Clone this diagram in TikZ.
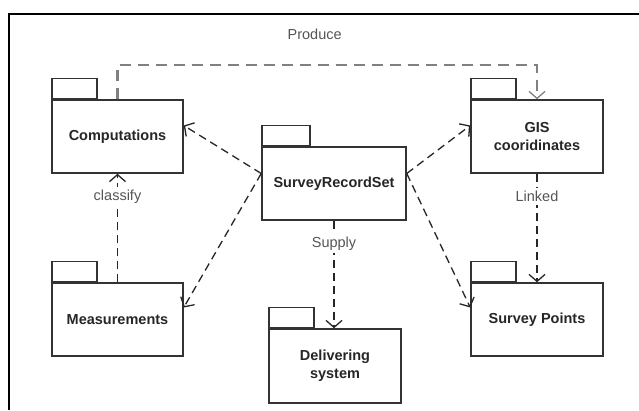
\documentclass[tikz,border=0pt]{standalone}
\usepackage{fontspec}
\setmainfont{Liberation Sans}
\usetikzlibrary{arrows.meta,calc}
\definecolor{boxline}{HTML}{333333}
\definecolor{boxtext}{HTML}{262626}
\definecolor{lbltext}{HTML}{555555}
\definecolor{prodline}{HTML}{808080}
\begin{document}
\begin{tikzpicture}[x=1pt,y=-1pt,
  pkg/.style={draw=boxline, line width=1.5pt, minimum width=131pt, minimum height=73pt,
    inner sep=0pt, font=\bfseries\fontsize{14.5}{18}\selectfont, text=boxtext, align=center},
  pkgtab/.style={draw=boxline, line width=1.5pt, minimum width=45pt, minimum height=20pt,
    inner sep=0pt, anchor=south west},
  dep/.style={draw=black!85, line width=1.3pt, dash pattern=on 8pt off 5pt,
    -{Straight Barb[length=7pt,width=16pt,line width=1.3pt]}},
  lbl/.style={font=\fontsize{14.5}{18}\selectfont, text=lbltext, fill=white, inner sep=3pt}]
\useasboundingbox (0,0) rectangle (639,410);
\fill[white] (0,0) rectangle (639,410);
\draw[line width=2pt] (9,410) -- (9,14) -- (639,14);

% packages
\node[pkg] (comp) at (117.5,136.5) {Computations};
\node[pkgtab] (comptab) at (comp.north west) {};
\node[pkg, minimum width=144pt] (srs) at (334,183.5) {SurveyRecordSet};
\node[pkgtab, minimum width=48pt] (srstab) at (srs.north west) {};
\node[pkg, minimum width=132pt] (gis) at (537,136.5) {GIS\\cooridinates};
\node[pkgtab] (gistab) at (gis.north west) {};
\node[pkg] (meas) at (117.5,319.5) {Measurements};
\node[pkgtab] (meastab) at (meas.north west) {};
\node[pkg, minimum width=132pt, minimum height=74pt] (del) at (335,366) {Delivering\\system};
\node[pkgtab] (deltab) at (del.north west) {};
\node[pkg, minimum width=132pt] (sp) at (537,319.5) {Survey Points};
\node[pkgtab] (sptab) at (sp.north west) {};

% dependencies
\draw[dep, draw=prodline, line width=2.2pt, dash pattern=on 11pt off 7pt]
  (comp.north) -- ++(0,-34) -| (gis.north)
  node[pos=0.235, yshift=31pt, font=\fontsize{14.5}{18}\selectfont, text=lbltext] (prod) {Produce};
\draw[dep] ([yshift=10pt]srs.west) -- ([yshift=11pt]comp.east);
\draw[dep] ([yshift=10pt]srs.west) -- ([yshift=12pt]meas.east);
\draw[dep] ([yshift=10pt]srs.east) -- ([yshift=11pt]gis.west);
\draw[dep] ([yshift=10pt]srs.east) -- ([yshift=12pt]sp.west);
\draw[dep] (srs.south) -- (srs.south |- del.north) node[lbl, pos=0.21] (supply) {Supply};
\draw[dep] (meas.north) -- (comp.south) node[lbl, pos=0.79] (classify) {classify};
\draw[dep] (gis.south) -- (sp.north) node[lbl, pos=0.21] (linked) {Linked};
\end{tikzpicture}
\end{document}
